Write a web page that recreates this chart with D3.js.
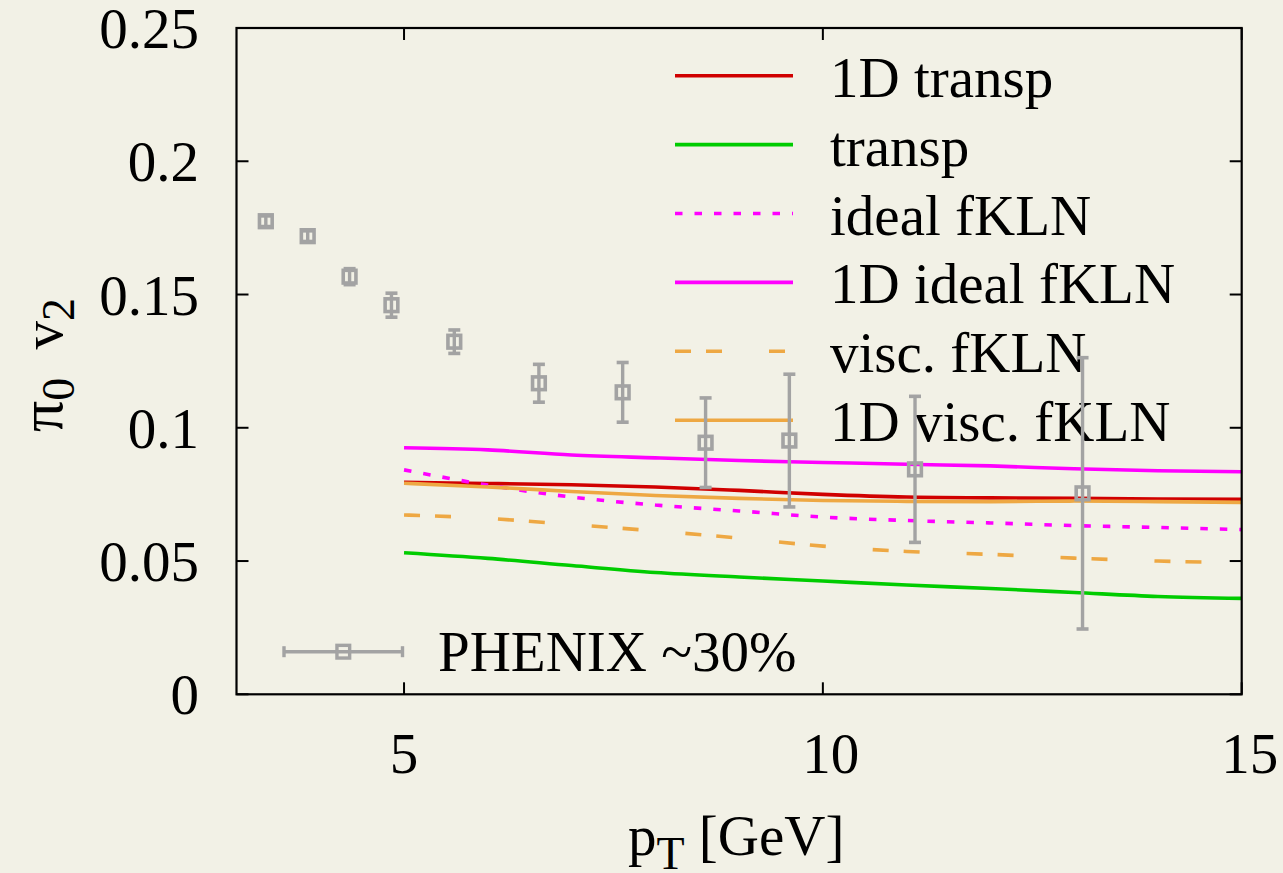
<!DOCTYPE html>
<html>
<head>
<meta charset="utf-8">
<script src="https://cdn.jsdelivr.net/npm/d3@7/dist/d3.min.js"></script>
<style>
  html, body { margin: 0; padding: 0; background: #F2F1E6; }
  svg { display: block; }
  text { font-family: "Liberation Serif", "Times New Roman", Times, serif; fill: #000; }
</style>
</head>
<body>
<svg id="chart" width="1283" height="873"></svg>
<script>
// pT grid for the model curves (GeV)
const ptGrid = [5, 6, 7, 8, 9, 10, 11, 12, 13, 14, 15];

// model curves, v2 of pi0
const v2Transp1D    = [0.0795, 0.0791, 0.0786, 0.0778, 0.0765, 0.0750, 0.0740, 0.0737, 0.0735, 0.0733, 0.0732];
const v2Transp      = [0.0531, 0.0510, 0.0483, 0.0457, 0.0440, 0.0425, 0.0410, 0.0397, 0.0382, 0.0367, 0.0360];
const v2IdealFKLN   = [0.0842, 0.0785, 0.0740, 0.0710, 0.0688, 0.0665, 0.0652, 0.0643, 0.0633, 0.0626, 0.0618];
const v2IdealFKLN1D = [0.0925, 0.0917, 0.0898, 0.0887, 0.0877, 0.0870, 0.0863, 0.0857, 0.0846, 0.0839, 0.0835];
const v2ViscFKLN    = [0.0673, 0.0660, 0.0637, 0.0613, 0.0586, 0.0556, 0.0536, 0.0525, 0.0511, 0.0500, 0.0494];
const v2ViscFKLN1D  = [0.0792, 0.0778, 0.0761, 0.0746, 0.0735, 0.0727, 0.0724, 0.0723, 0.0725, 0.0723, 0.0720];

// PHENIX pi0 v2 measurements with errors
const phenixPt  = [3.35, 3.85, 4.35, 4.85, 5.60, 6.61, 7.61, 8.60, 9.60, 11.10, 13.10];
const phenixV2  = [0.1775, 0.1719, 0.1567, 0.1460, 0.1323, 0.1167, 0.1133, 0.0944, 0.0952, 0.0844, 0.0754];
const phenixErr = [0.0020, 0.0020, 0.0030, 0.0045, 0.0044, 0.0071, 0.0112, 0.0168, 0.0249, 0.0274, 0.0509];

// axes
const xTicks = [5, 10, 15];
const yTicks = [0, 0.05, 0.1, 0.15, 0.2, 0.25];
const yTickLabels = ["0", "0.05", "0.1", "0.15", "0.2", "0.25"];

// legend labels
const seriesNames = ["1D transp", "transp", "ideal fKLN", "1D ideal fKLN", "visc. fKLN", "1D visc. fKLN"];
const dataName = "PHENIX ~30%";

const series = [
  { name: seriesNames[0], values: v2Transp1D,    color: "#D00000", dash: null },
  { name: seriesNames[1], values: v2Transp,      color: "#00CC00", dash: null },
  { name: seriesNames[2], values: v2IdealFKLN,   color: "#FF00FF", dash: "7.5,12" },
  { name: seriesNames[3], values: v2IdealFKLN1D, color: "#FF00FF", dash: null },
  { name: seriesNames[4], values: v2ViscFKLN,    color: "#EEA843", dash: "16,15,16,47" },
  { name: seriesNames[5], values: v2ViscFKLN1D,  color: "#EEA843", dash: null }
];

const svg = d3.select("#chart");
const L = 236.5, R = 1241.7, T = 28, B = 694.3;
const FS = 57;
const LW = 3.6;

const x = d3.scaleLinear().domain([3, 15]).range([L, R]);
const y = d3.scaleLinear().domain([0, 0.25]).range([B, T]);

svg.append("rect").attr("width", 1283).attr("height", 873).attr("fill", "#F2F1E6");

// ticks on all four sides, pointing inward
const tickLen = 12;
const tg = svg.append("g").attr("stroke", "#000").attr("stroke-width", 2);
yTicks.forEach(v => {
  tg.append("line").attr("x1", L).attr("x2", L + tickLen).attr("y1", y(v)).attr("y2", y(v));
  tg.append("line").attr("x1", R).attr("x2", R - tickLen).attr("y1", y(v)).attr("y2", y(v));
});
xTicks.forEach(v => {
  tg.append("line").attr("x1", x(v)).attr("x2", x(v)).attr("y1", B).attr("y2", B - tickLen);
  tg.append("line").attr("x1", x(v)).attr("x2", x(v)).attr("y1", T).attr("y2", T + tickLen);
});

// tick labels
yTicks.forEach((v, i) => {
  svg.append("text").attr("x", 199).attr("y", y(v) + 20)
    .attr("text-anchor", "end").attr("font-size", FS).text(yTickLabels[i]);
});
xTicks.forEach(v => {
  const s = String(v);
  svg.append("text").attr("x", x(v) + (s.length - 1) * 8).attr("y", 773)
    .attr("text-anchor", "middle").attr("font-size", FS).text(s);
});

// axis titles
const xt = svg.append("text").attr("x", 628).attr("y", 855).attr("font-size", FS);
xt.append("tspan").text("p");
xt.append("tspan").attr("font-size", 46).attr("dy", 14).text("T");
xt.append("tspan").attr("dy", -14).text(" [GeV]");

const yt = svg.append("text")
  .attr("transform", "translate(62,432) rotate(-90)")
  .attr("text-anchor", "start").attr("font-size", FS);
yt.append("tspan").attr("font-size", 62).text("π");
yt.append("tspan").attr("font-size", 46).attr("dy", 12).text("0");
yt.append("tspan").attr("dy", -12).attr("dx", 14).text(" v");
yt.append("tspan").attr("font-size", 46).attr("dy", 12).text("2");

// legend for the model curves
const legX1 = 675, legX2 = 793, legTextX = 830;
const legY0 = 75.7, legDY = 68.9;
series.forEach((s, i) => {
  const ly = legY0 + i * legDY;
  svg.append("line").attr("x1", legX1).attr("x2", legX2).attr("y1", ly).attr("y2", ly)
    .attr("stroke", s.color).attr("stroke-width", LW)
    .attr("stroke-dasharray", s.dash);
  svg.append("text").attr("x", legTextX).attr("y", ly + 21).attr("font-size", FS).text(s.name);
});

// model curves
const line = d3.line()
  .x((d, i) => x(ptGrid[i]))
  .y(d => y(d))
  .curve(d3.curveMonotoneX);

svg.append("clipPath").attr("id", "plotclip")
  .append("rect").attr("x", L).attr("y", T).attr("width", R - L).attr("height", B - T);

const cg = svg.append("g").attr("clip-path", "url(#plotclip)");
series.forEach(s => {
  cg.append("path").attr("d", line(s.values))
    .attr("fill", "none").attr("stroke", s.color).attr("stroke-width", LW)
    .attr("stroke-linejoin", "round")
    .attr("stroke-dasharray", s.dash);
});

// data points with error bars
const gray = "#A3A3A3";
const capW = 6, sq = 12.7;
const dg = svg.append("g").attr("stroke", gray).attr("fill", "none");
phenixPt.forEach((pt, i) => {
  const cx = x(pt), v = phenixV2[i], e = phenixErr[i];
  dg.append("line").attr("x1", cx).attr("x2", cx).attr("y1", y(v - e)).attr("y2", y(v + e))
    .attr("stroke-width", 3.4);
  [v - e, v + e].forEach(w => {
    dg.append("line").attr("x1", cx - capW).attr("x2", cx + capW).attr("y1", y(w)).attr("y2", y(w))
      .attr("stroke-width", 3.6);
  });
  dg.append("rect").attr("x", cx - sq / 2).attr("y", y(v) - sq / 2)
    .attr("width", sq).attr("height", sq).attr("stroke-width", 3.6);
});

// data legend
const pY = 651.7, pX1 = 284, pX2 = 402.5, pXc = 343.3;
const pg = svg.append("g").attr("stroke", gray).attr("fill", "none").attr("stroke-width", 3.4);
pg.append("line").attr("x1", pX1).attr("x2", pX2).attr("y1", pY).attr("y2", pY);
pg.append("line").attr("x1", pX1).attr("x2", pX1).attr("y1", pY - 5.5).attr("y2", pY + 5.5);
pg.append("line").attr("x1", pX2).attr("x2", pX2).attr("y1", pY - 5.5).attr("y2", pY + 5.5);
pg.append("rect").attr("x", pXc - sq / 2).attr("y", pY - sq / 2).attr("width", sq).attr("height", sq);
svg.append("text").attr("x", 438).attr("y", 671).attr("font-size", FS).text(dataName);

// frame
svg.append("rect").attr("x", L).attr("y", T).attr("width", R - L).attr("height", B - T)
  .attr("fill", "none").attr("stroke", "#000").attr("stroke-width", 2.2);
</script>
</body>
</html>
